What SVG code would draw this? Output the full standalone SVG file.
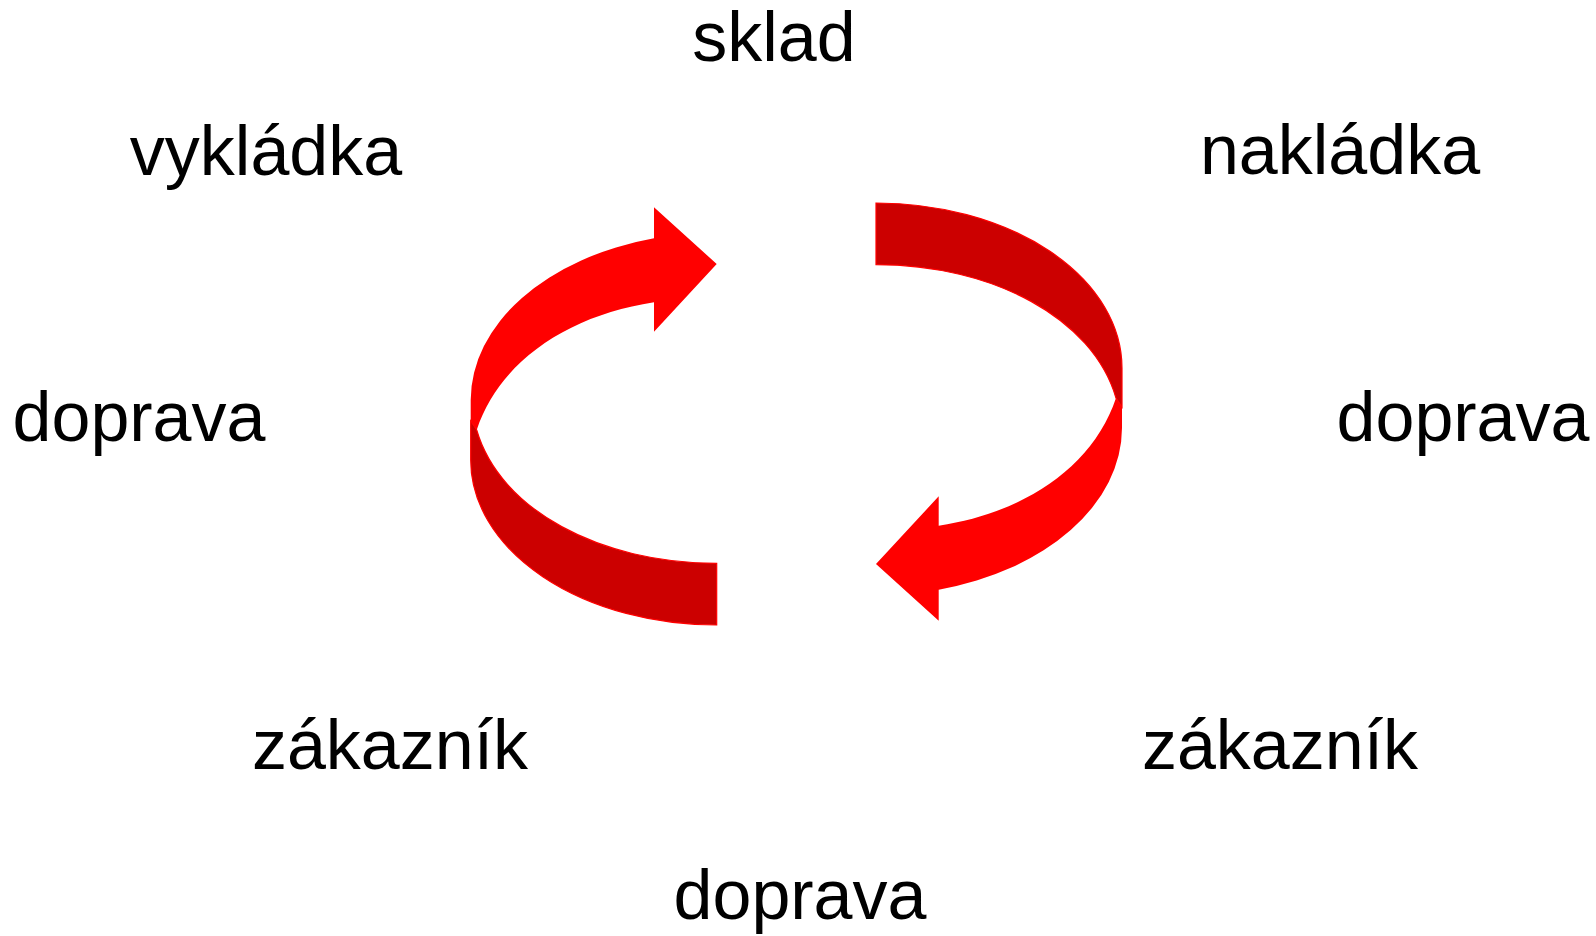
<svg xmlns="http://www.w3.org/2000/svg" width="1596" height="936" viewBox="0 0 1596 936">
  <style>
    .lbl { font-family: "Liberation Sans", Arial, sans-serif; font-size: 70px; fill: #000; text-anchor: middle; }
    .light { fill: #ff0000; }
    .dark { fill: #cc0000; stroke: #ff0000; stroke-width: 1.2; }
  </style>
  <defs>
    <g id="curved-arrow">
      <path class="dark" d="M 470.7 421 L 476.7 430 C 500 510 600 563.3 716.7 563.3 L 716.7 625 A 246 165 0 0 1 470.7 460 Z"/>
      <path class="light" d="M 470.7 400 A 246 167.5 0 0 1 654 238.3 L 654 207.3 L 716.7 264 L 654 331.7 L 654 302.3 C 570 315 500 360 476.7 430 L 470.7 421 Z"/>
    </g>
  </defs>
  <rect width="1596" height="936" fill="#ffffff"/>
  <g id="connectors">
    <g id="arrow-left">
      <use href="#curved-arrow"/>
    </g>
    <g id="arrow-right" transform="rotate(180 796.35 414)">
      <use href="#curved-arrow"/>
    </g>
  </g>
  <g id="node-sklad"><text class="lbl" x="774" y="61">sklad</text></g>
  <g id="node-vykladka"><text class="lbl" x="266" y="175">vykládka</text></g>
  <g id="node-nakladka"><text class="lbl" x="1340" y="174">nakládka</text></g>
  <g id="node-doprava-left"><text class="lbl" x="139" y="441">doprava</text></g>
  <g id="node-doprava-right"><text class="lbl" x="1463" y="441">doprava</text></g>
  <g id="node-zakaznik-left"><text class="lbl" x="390" y="769">zákazník</text></g>
  <g id="node-zakaznik-right"><text class="lbl" x="1280" y="769">zákazník</text></g>
  <g id="node-doprava-bottom"><text class="lbl" x="800" y="919">doprava</text></g>
</svg>
